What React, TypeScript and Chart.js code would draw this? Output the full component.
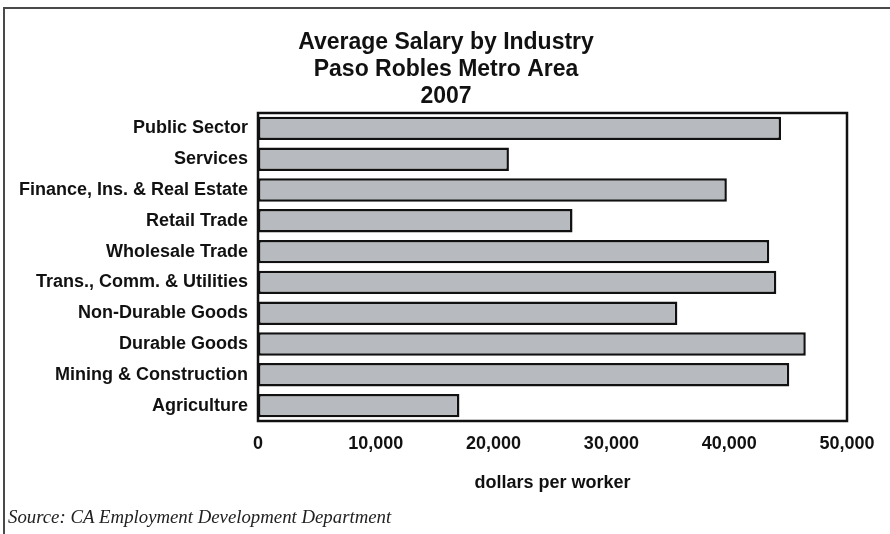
import { useEffect, useRef } from "react";
import { Chart, registerables } from "chart.js";

Chart.register(...registerables);

const categories = [
  "Public Sector",
  "Services",
  "Finance, Ins. & Real Estate",
  "Retail Trade",
  "Wholesale Trade",
  "Trans., Comm. & Utilities",
  "Non-Durable Goods",
  "Durable Goods",
  "Mining & Construction",
  "Agriculture",
];
const salaries = [44400, 21300, 39800, 26700, 43400, 44000, 35600, 46500, 45100, 17100];
const xTickValues = [0, 10000, 20000, 30000, 40000, 50000];
const titleLines = ["Average Salary by Industry", "Paso Robles Metro Area", "2007"];
const xAxisTitle = "dollars per worker";
const sourceNote = "Source: CA Employment Development Department";

const FONT = '"Liberation Sans", Arial, Helvetica, sans-serif';

const decorPlugin = {
  id: "decor",
  afterDatasetsDraw(chart: any) {
    const { ctx, chartArea: a } = chart;
    ctx.save();
    ctx.strokeStyle = "#111";
    ctx.lineWidth = 2.5;
    ctx.strokeRect(a.left, a.top, a.right - a.left, a.bottom - a.top);
    ctx.restore();
  },
  afterDraw(chart: any) {
    const { ctx } = chart;
    ctx.save();
    // outer frame
    ctx.strokeStyle = "#4a4a4a";
    ctx.lineWidth = 2;
    ctx.beginPath();
    ctx.moveTo(4, 560);
    ctx.lineTo(4, 8);
    ctx.lineTo(920, 8);
    ctx.stroke();
    // title, centred on the page
    ctx.font = `bold 23px ${FONT}`;
    ctx.fillStyle = "#111";
    ctx.textAlign = "center";
    ctx.textBaseline = "middle";
    titleLines.forEach((line, i) => ctx.fillText(line, 446, 43 + i * 26.8));
    // source note
    ctx.font = 'italic 18.8px "Liberation Serif", "Times New Roman", serif';
    ctx.fillStyle = "#222";
    ctx.textAlign = "left";
    ctx.textBaseline = "alphabetic";
    ctx.fillText(sourceNote, 8, 523);
    ctx.restore();
  },
};

export default function App() {
  const canvasRef = useRef<HTMLCanvasElement | null>(null);

  useEffect(() => {
    if (!canvasRef.current) return;
    const chart = new Chart(canvasRef.current, {
      type: "bar",
      data: {
        labels: categories,
        datasets: [
          {
            data: salaries,
            backgroundColor: "#b7bbbf",
            borderColor: "#111",
            borderWidth: 2.5,
            borderSkipped: false,
            categoryPercentage: 1,
            barPercentage: 0.76,
          },
        ],
      },
      options: {
        indexAxis: "y",
        responsive: false,
        animation: false,
        devicePixelRatio: 1,
        layout: { padding: { left: 0, right: 43, top: 113, bottom: 0 } },
        plugins: {
          legend: { display: false },
          tooltip: { enabled: false },
          title: { display: false },
        },
        scales: {
          x: {
            type: "linear",
            min: 0,
            max: 50000,
            grid: { display: false, drawTicks: false },
            border: { display: false },
            afterBuildTicks: (scale: any) => {
              scale.ticks = xTickValues.map((v) => ({ value: v }));
            },
            afterFit: (scale: any) => {
              scale.height = 113;
            },
            ticks: {
              color: "#111",
              padding: 12,
              font: { family: FONT, size: 18, weight: "bold" },
              callback: (v: any) => Number(v).toLocaleString("en-US"),
            },
            title: {
              display: true,
              text: xAxisTitle,
              color: "#111",
              font: { family: FONT, size: 18, weight: "bold" },
              padding: { top: 0, bottom: 40 },
            },
          },
          y: {
            grid: { display: false, drawTicks: false },
            border: { display: false },
            afterFit: (scale: any) => {
              scale.width = 258;
            },
            ticks: {
              color: "#111",
              padding: 10,
              autoSkip: false,
              font: { family: FONT, size: 18, weight: "bold" },
            },
          },
        },
      },
      plugins: [decorPlugin],
    });
    return () => chart.destroy();
  }, []);

  return (
    <div style={{ position: "fixed", left: 0, top: 0, width: 890, height: 534, background: "#fff" }}>
      <canvas ref={canvasRef} width={890} height={534} style={{ display: "block", width: 890, height: 534 }} />
    </div>
  );
}
